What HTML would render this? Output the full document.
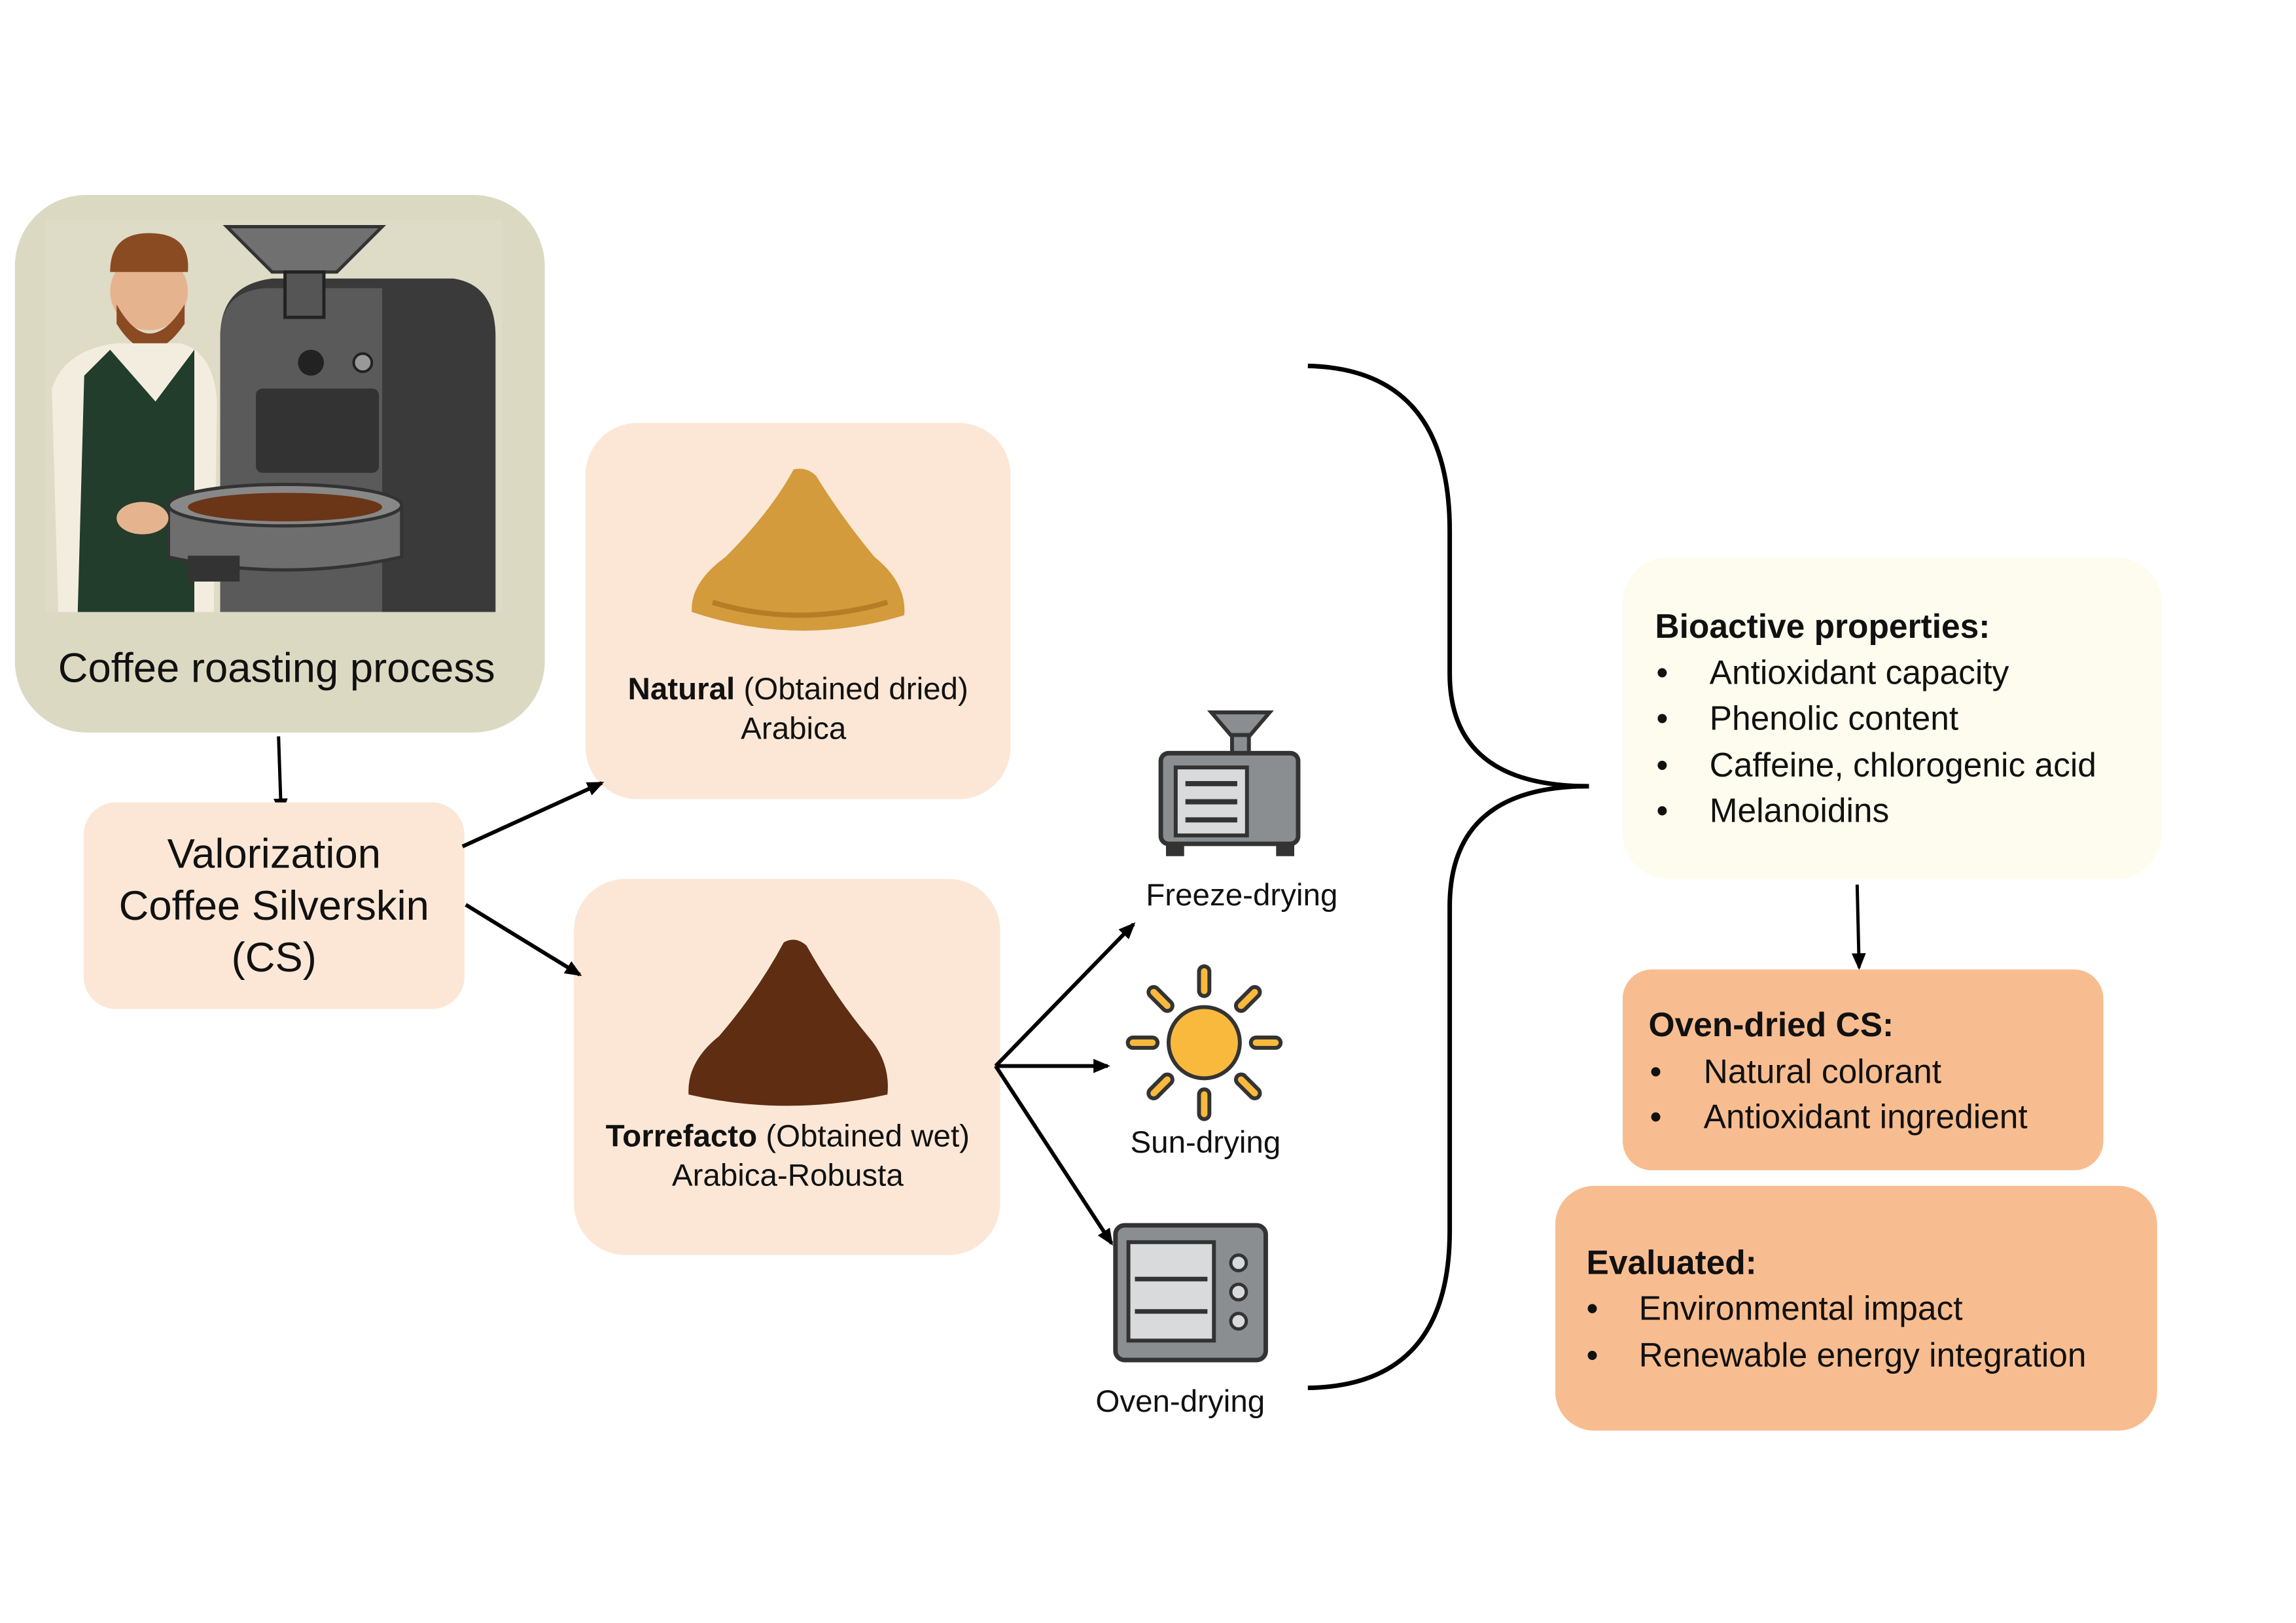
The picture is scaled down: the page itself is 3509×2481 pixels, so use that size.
<!DOCTYPE html>
<html><head><meta charset="utf-8"><style>
html,body{margin:0;padding:0;background:#fff;}
svg{display:block;}
text{font-family:"Liberation Sans",sans-serif;fill:#111;}
</style></head><body>
<svg width="3509" height="2481" viewBox="0 0 3509 2481" xmlns="http://www.w3.org/2000/svg">
<defs>
<marker id="ah" markerWidth="26" markerHeight="22" refX="22" refY="11" orient="auto" markerUnits="userSpaceOnUse">
<path d="M0,0 L26,11 L0,22 z" fill="#000"/></marker>
</defs>
<rect width="3509" height="2481" fill="#fff"/>
<g transform="scale(0.99)">
<!-- Coffee roasting box -->
<rect x="23" y="301" width="818" height="830" rx="110" fill="#dcd9c3"/>
<rect x="70" y="340" width="705" height="605" fill="#dedbc7"/>
<path d="M340,945 L340,520 Q340,440 420,430 L700,430 Q765,440 765,520 L765,945 Z" fill="#3a3a3a"/>
<path d="M340,945 L340,520 Q340,450 410,445 L590,445 L590,945 Z" fill="#5a5a5a"/>
<path d="M350,350 L590,350 L520,420 L420,420 Z" fill="#707070" stroke="#333" stroke-width="5"/>
<rect x="440" y="420" width="60" height="70" fill="#555" stroke="#222" stroke-width="5"/>
<rect x="395" y="600" width="190" height="130" rx="10" fill="#333"/>
<circle cx="480" cy="560" r="20" fill="#222"/>
<circle cx="560" cy="560" r="14" fill="#999" stroke="#222" stroke-width="4"/>
<circle cx="230" cy="450" r="60" fill="#e5b48e"/>
<path d="M170,420 Q170,360 230,360 Q295,360 290,420 Z" fill="#8a4a22"/>
<path d="M180,470 Q230,560 285,470 L285,500 Q230,580 180,500 Z" fill="#8a4a22"/>
<path d="M90,945 L80,600 Q100,540 180,530 L280,530 Q330,545 335,620 L330,945 Z" fill="#f3ede0"/>
<path d="M120,945 L130,580 L170,540 L240,620 L300,540 L300,945 Z" fill="#223d2c"/>
<path d="M260,780 L620,780 L620,860 Q440,900 260,860 Z" fill="#6e6e6e" stroke="#333" stroke-width="5"/>
<ellipse cx="440" cy="780" rx="180" ry="32" fill="#888" stroke="#333" stroke-width="5"/>
<ellipse cx="440" cy="783" rx="150" ry="22" fill="#6b3518"/>
<rect x="290" y="858" width="80" height="40" fill="#333"/>
<ellipse cx="220" cy="800" rx="40" ry="25" fill="#e5b48e"/>
<text x="427" y="1053" font-size="64" text-anchor="middle">Coffee roasting process</text>

<line x1="430" y1="1137" x2="434" y2="1255" stroke="#000" stroke-width="5" marker-end="url(#ah)"/>

<rect x="129" y="1239" width="588" height="319" rx="50" fill="#fce7d6"/>
<text x="423" y="1340" font-size="64" text-anchor="middle">Valorization</text>
<text x="423" y="1420" font-size="64" text-anchor="middle">Coffee Silverskin</text>
<text x="423" y="1500" font-size="64" text-anchor="middle">(CS)</text>

<rect x="904" y="653" width="656" height="581" rx="80" fill="#fce7d6"/>
<path d="M1068,945 Q1065,900 1120,860 Q1190,790 1225,725 Q1245,720 1260,735 Q1300,800 1350,860 Q1400,900 1396,950 Q1232,1000 1068,945 Z" fill="#d39b3c"/>
<path d="M1100,930 Q1232,970 1370,930" stroke="#b57e26" stroke-width="8" fill="none"/>
<text x="1232" y="1080" font-size="48" text-anchor="middle"><tspan font-weight="bold">Natural</tspan> (Obtained dried)</text>
<text x="1225" y="1141" font-size="48" text-anchor="middle">Arabica</text>

<rect x="886" y="1357" width="658" height="581" rx="80" fill="#fce7d6"/>
<path d="M1063,1690 Q1060,1640 1110,1600 Q1170,1530 1210,1455 Q1228,1445 1245,1460 Q1290,1540 1340,1600 Q1375,1640 1370,1690 Q1215,1725 1063,1690 Z" fill="#5e2d12"/>
<text x="1216" y="1770" font-size="48" text-anchor="middle"><tspan font-weight="bold">Torrefacto</tspan> (Obtained wet)</text>
<text x="1216" y="1831" font-size="48" text-anchor="middle">Arabica-Robusta</text>

<line x1="714" y1="1307" x2="929" y2="1209" stroke="#000" stroke-width="6" marker-end="url(#ah)"/>
<line x1="719" y1="1397" x2="895" y2="1505" stroke="#000" stroke-width="6" marker-end="url(#ah)"/>

<line x1="1537" y1="1646" x2="1750" y2="1427" stroke="#000" stroke-width="6" marker-end="url(#ah)"/>
<line x1="1537" y1="1646" x2="1710" y2="1646" stroke="#000" stroke-width="6" marker-end="url(#ah)"/>
<line x1="1537" y1="1646" x2="1716" y2="1920" stroke="#000" stroke-width="6" marker-end="url(#ah)"/>

<path d="M1870,1100 L1960,1100 L1930,1135 L1900,1135 Z" fill="#8a8e91" stroke="#333" stroke-width="6"/>
<rect x="1902" y="1135" width="26" height="30" fill="#8a8e91" stroke="#333" stroke-width="6"/>
<rect x="1792" y="1163" width="212" height="140" rx="12" fill="#8a8e91" stroke="#333" stroke-width="7"/>
<rect x="1815" y="1185" width="110" height="105" fill="#d9dadb" stroke="#333" stroke-width="6"/>
<line x1="1830" y1="1210" x2="1910" y2="1210" stroke="#333" stroke-width="8"/>
<line x1="1830" y1="1238" x2="1910" y2="1238" stroke="#333" stroke-width="8"/>
<line x1="1830" y1="1266" x2="1910" y2="1266" stroke="#333" stroke-width="8"/>
<rect x="1800" y="1300" width="28" height="22" fill="#333"/><rect x="1970" y="1300" width="28" height="22" fill="#333"/>
<text x="1917" y="1398" font-size="48" text-anchor="middle">Freeze-drying</text>

<circle cx="1859" cy="1610" r="55" fill="#f8b93d" stroke="#333" stroke-width="6"/>
<g stroke="#333" stroke-width="22" stroke-linecap="round">
<line x1="1859" y1="1500" x2="1859" y2="1530"/><line x1="1859" y1="1690" x2="1859" y2="1720"/>
<line x1="1749" y1="1610" x2="1779" y2="1610"/><line x1="1939" y1="1610" x2="1969" y2="1610"/>
<line x1="1781" y1="1532" x2="1802" y2="1553"/><line x1="1916" y1="1667" x2="1937" y2="1688"/>
<line x1="1937" y1="1532" x2="1916" y2="1553"/><line x1="1802" y1="1667" x2="1781" y2="1688"/>
</g>
<g stroke="#f8b93d" stroke-width="10" stroke-linecap="round">
<line x1="1859" y1="1500" x2="1859" y2="1530"/><line x1="1859" y1="1690" x2="1859" y2="1720"/>
<line x1="1749" y1="1610" x2="1779" y2="1610"/><line x1="1939" y1="1610" x2="1969" y2="1610"/>
<line x1="1781" y1="1532" x2="1802" y2="1553"/><line x1="1916" y1="1667" x2="1937" y2="1688"/>
<line x1="1937" y1="1532" x2="1916" y2="1553"/><line x1="1802" y1="1667" x2="1781" y2="1688"/>
</g>
<text x="1861" y="1780" font-size="48" text-anchor="middle">Sun-drying</text>

<rect x="1722" y="1892" width="232" height="208" rx="14" fill="#8a8e91" stroke="#333" stroke-width="7"/>
<rect x="1742" y="1918" width="132" height="152" fill="#d9dadb" stroke="#333" stroke-width="6"/>
<line x1="1752" y1="1975" x2="1864" y2="1975" stroke="#333" stroke-width="7"/>
<line x1="1752" y1="2025" x2="1864" y2="2025" stroke="#333" stroke-width="7"/>
<circle cx="1912" cy="1950" r="12" fill="#d9dadb" stroke="#333" stroke-width="5"/>
<circle cx="1912" cy="1995" r="12" fill="#d9dadb" stroke="#333" stroke-width="5"/>
<circle cx="1912" cy="2040" r="12" fill="#d9dadb" stroke="#333" stroke-width="5"/>
<text x="1822" y="2180" font-size="48" text-anchor="middle">Oven-drying</text>

<path d="M2019,565 Q2238,570 2238,820 L2238,1040 Q2238,1214 2453,1214 Q2238,1214 2238,1400 L2238,1900 Q2238,2140 2019,2143" fill="none" stroke="#000" stroke-width="7"/>

<rect x="2505" y="861" width="832" height="496" rx="70" fill="#fdfcee"/>
<g font-size="52">
<text x="2555" y="985" font-weight="bold">Bioactive properties:</text>
<text x="2557" y="1056">•</text><text x="2639" y="1056">Antioxidant capacity</text>
<text x="2557" y="1127">•</text><text x="2639" y="1127">Phenolic content</text>
<text x="2557" y="1199">•</text><text x="2639" y="1199">Caffeine, chlorogenic acid</text>
<text x="2557" y="1269">•</text><text x="2639" y="1269">Melanoidins</text>
</g>
<line x1="2867" y1="1366" x2="2870" y2="1494" stroke="#000" stroke-width="5" marker-end="url(#ah)"/>

<rect x="2505" y="1497" width="742" height="310" rx="45" fill="#f7bd90"/>
<g font-size="52">
<text x="2545" y="1600" font-weight="bold">Oven-dried CS:</text>
<text x="2547" y="1672">•</text><text x="2630" y="1672">Natural colorant</text>
<text x="2547" y="1742">•</text><text x="2630" y="1742">Antioxidant ingredient</text>
</g>

<rect x="2401" y="1831" width="929" height="378" rx="60" fill="#f7bd90"/>
<g font-size="52">
<text x="2449" y="1967" font-weight="bold">Evaluated:</text>
<text x="2449" y="2038">•</text><text x="2530" y="2038">Environmental impact</text>
<text x="2449" y="2110">•</text><text x="2530" y="2110">Renewable energy integration</text>
</g>
</g>
</svg>
</body></html>
